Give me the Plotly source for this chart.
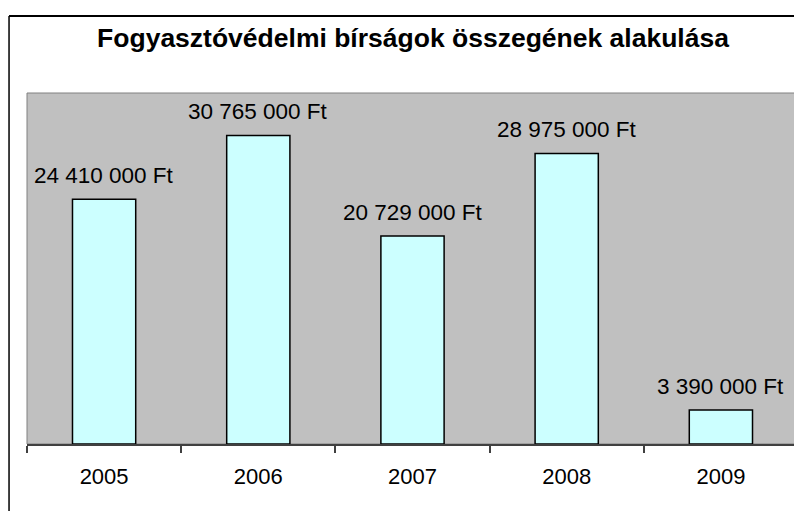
import plotly.graph_objects as go

years = ["2005", "2006", "2007", "2008", "2009"]
fines = [24410000, 30765000, 20729000, 28975000, 3390000]
title_text = "Fogyasztóvédelmi bírságok összegének alakulása"

font_family = "Arial, Liberation Sans, sans-serif"

fig = go.Figure(
    go.Bar(
        x=years,
        y=fines,
        marker=dict(color="#CCFFFF", line=dict(color="black", width=1.5)),
        hoverinfo="skip",
    )
)

# value labels above bars, "24 410 000 Ft" style (x given as category index)
for i, val in enumerate(fines):
    fig.add_annotation(
        x=i,
        y=val,
        text=f"{val:,.0f} Ft".replace(",", " "),
        showarrow=False,
        yanchor="bottom",
        yshift=9,
        font=dict(family=font_family, size=22.5, color="black"),
    )

# plot-area frame
fig.add_shape(
    type="rect", xref="paper", yref="paper", x0=0, x1=1, y0=0, y1=1,
    line=dict(color="#808080", width=1), layer="below",
)
# outer chart frame: top and left edges (right/bottom fall outside the image)
fig.add_shape(
    type="line", xref="paper", yref="paper", x0=-0.0233, x1=1.03, y0=1.2194, y1=1.2194,
    line=dict(color="black", width=2), layer="above",
)
fig.add_shape(
    type="line", xref="paper", yref="paper", x0=-0.0233, x1=-0.0233, y0=-0.3, y1=1.2194,
    line=dict(color="black", width=1.5), layer="above",
)

fig.update_layout(
    width=802,
    height=511,
    margin=dict(l=19, r=12, t=85, b=75, autoexpand=False),
    paper_bgcolor="white",
    plot_bgcolor="#C0C0C0",
    showlegend=False,
    bargap=0.59,
    title=dict(
        text="<b>" + title_text + "</b>",
        x=0.505,
        xanchor="center",
        y=0.941,
        yanchor="middle",
        font=dict(family=font_family, size=26.5, color="black"),
    ),
    font=dict(family=font_family, color="black"),
    xaxis=dict(
        type="category",
        range=[-0.5, 4.5],
        showline=True,
        linecolor="#404040",
        linewidth=1.5,
        ticks="outside",
        tickson="boundaries",
        ticklen=7,
        tickcolor="#404040",
        tickwidth=1.5,
        tickfont=dict(size=22, color="black"),
        tickangle=0,
        ticklabelstandoff=12,
        showgrid=False,
    ),
    yaxis=dict(
        range=[0, 35000000],
        visible=False,
        showgrid=False,
        zeroline=False,
    ),
)

fig.write_html("out.html")
